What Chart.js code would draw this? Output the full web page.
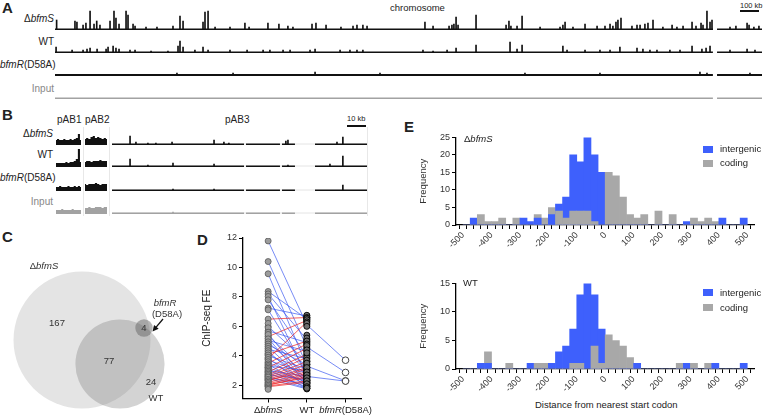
<!DOCTYPE html>
<html>
<head>
<meta charset="utf-8">
<script src="https://cdn.jsdelivr.net/npm/chart.js"></script>
<style>
  body { margin: 0; background: #fff; font-family: 'Liberation Sans', Arial, sans-serif; color: #222; }
  #fig { position: relative; width: 763px; height: 418px; overflow: hidden; }
  canvas { position: absolute; }
  .t { position: absolute; font-size: 10px; line-height: 12px; white-space: nowrap; }
  .r { text-align: right; }
  .p { position: absolute; font-weight: bold; font-size: 15px; line-height: 16px; }
  .sw { position: absolute; width: 10px; height: 7px; }
  .bar { position: absolute; background: #111; height: 1.5px; }
  .sep { position: absolute; width: 1px; background: #e8e8e8; }
</style>
</head>
<body>
<div id="fig">
  <!-- panel A -->
  <div class="p" style="left:2px;top:0px">A</div>
  <div class="t" style="left:390px;top:2px;font-size:9.5px">chromosome</div>
  <div class="t" style="left:740px;top:0px;font-size:7.5px">100 kb</div>
  <div class="bar" style="left:740px;top:10px;width:19px"></div>
  <div class="t r" style="left:0;width:54px;top:13px">&Delta;<i>bfmS</i></div>
  <div class="t r" style="left:0;width:54px;top:36px">WT</div>
  <div class="t r" style="left:0;width:54px;top:59px"><i>bfmR</i>(D58A)</div>
  <div class="t r" style="left:0;width:54px;top:83px;color:#888">Input</div>
  <canvas id="aS" width="707" height="21" style="left:55px;top:9px"></canvas>
  <canvas id="aW" width="707" height="21" style="left:55px;top:32px"></canvas>
  <canvas id="aR" width="707" height="21" style="left:55px;top:55px"></canvas>
  <canvas id="aI" width="707" height="21" style="left:55px;top:78px"></canvas>

  <!-- panel B -->
  <div class="p" style="left:2px;top:107px">B</div>
  <div class="t" style="left:57px;top:114px">pAB1</div>
  <div class="t" style="left:85px;top:114px">pAB2</div>
  <div class="t" style="left:225px;top:114px">pAB3</div>
  <div class="t" style="left:347px;top:113px;font-size:7.5px">10 kb</div>
  <div class="bar" style="left:347px;top:125px;width:19px"></div>
  <div class="sep" style="left:83px;top:127px;height:89px"></div>
  <div class="sep" style="left:109px;top:127px;height:89px"></div>
  <div class="sep" style="left:367px;top:127px;height:89px"></div>
  <div class="t r" style="left:0;width:53px;top:128px">&Delta;<i>bfmS</i></div>
  <div class="t r" style="left:0;width:53px;top:149px">WT</div>
  <div class="t r" style="left:0;width:53px;top:172px"><i>bfmR</i>(D58A)</div>
  <div class="t r" style="left:0;width:53px;top:196px;color:#888">Input</div>
  <canvas id="b1S" width="25" height="21" style="left:56px;top:124px"></canvas>
  <canvas id="b1W" width="25" height="21" style="left:56px;top:146px"></canvas>
  <canvas id="b1R" width="25" height="21" style="left:56px;top:170px"></canvas>
  <canvas id="b1I" width="25" height="21" style="left:56px;top:193px"></canvas>
  <canvas id="b2S" width="22" height="21" style="left:85px;top:124px"></canvas>
  <canvas id="b2W" width="22" height="21" style="left:85px;top:146px"></canvas>
  <canvas id="b2R" width="22" height="21" style="left:85px;top:170px"></canvas>
  <canvas id="b2I" width="22" height="21" style="left:85px;top:193px"></canvas>
  <canvas id="b3S" width="255" height="21" style="left:112px;top:124px"></canvas>
  <canvas id="b3W" width="255" height="21" style="left:112px;top:146px"></canvas>
  <canvas id="b3R" width="255" height="21" style="left:112px;top:170px"></canvas>
  <canvas id="b3I" width="255" height="21" style="left:112px;top:193px"></canvas>

  <!-- panel C / D -->
  <div class="p" style="left:2px;top:229px">C</div>
  <canvas id="venn" width="200" height="168" style="left:0px;top:250px"></canvas>
  <div class="p" style="left:197px;top:232px">D</div>
  <canvas id="pairs" width="172" height="188" style="left:201px;top:230px"></canvas>

  <!-- panel E -->
  <div class="p" style="left:404px;top:119px">E</div>
  <canvas id="eTop" width="345" height="118" style="left:418px;top:130px"></canvas>
  <canvas id="eBot" width="345" height="116" style="left:418px;top:276px"></canvas>
  <div class="t" style="left:464px;top:133px;font-size:9.5px">&Delta;<i>bfmS</i></div>
  <div class="t" style="left:463px;top:277px;font-size:9.5px">WT</div>
  <div class="sw" style="left:703px;top:146px;background:rgb(62,96,252)"></div>
  <div class="t" style="left:720px;top:143px;font-size:9.5px">intergenic</div>
  <div class="sw" style="left:703px;top:160px;background:rgb(168,168,168)"></div>
  <div class="t" style="left:720px;top:157px;font-size:9.5px">coding</div>
  <div class="sw" style="left:703px;top:289px;background:rgb(62,96,252)"></div>
  <div class="t" style="left:720px;top:287px;font-size:9.5px">intergenic</div>
  <div class="sw" style="left:703px;top:304px;background:rgb(168,168,168)"></div>
  <div class="t" style="left:720px;top:302px;font-size:9.5px">coding</div>
  <div class="t" style="left:535px;top:399px;font-size:9.5px">Distance from nearest start codon</div>
</div>

<script>
// ---- panel A: chromosome tracks (kb positions, peak heights) ----
const chrLength = 3931;
const chrSegments = [[0, 3658], [3681, 3931]];
const aPeakPosS = [9,111,122,156,172,195,217,232,250,306,328,339,356,395,406,434,445,506,567,656,695,712,823,834,851,890,973,1056,1079,1184,1245,1295,1323,1429,1451,1507,1590,1657,1679,1712,1735,2057,2102,2191,2207,2218,2230,2241,2341,2508,2524,2535,2569,2597,2697,2808,2824,2836,2880,2947,3014,3058,3086,3102,3119,3130,3147,3208,3236,3253,3280,3297,3325,3380,3431,3458,3492,3542,3564,3592,3603,3625,3642,3653,3753,3786,3848,3859,3886,3914];
const aPeakHS = [10,9,8,5,7,19,6,9,5,9,19,12,6,19,15,6,4,3,3,4,14,9,8,18,19,3,3,7,3,7,6,4,3,6,7,5,3,4,5,5,4,8,4,4,5,6,13,5,15,5,9,4,4,14,3,3,5,8,3,6,4,4,6,4,8,10,12,4,5,5,6,7,10,3,5,3,4,8,4,7,5,19,8,10,3,4,7,5,3,4];
const aPeakPosW = [6,95,156,178,195,234,284,295,323,339,356,417,445,534,628,684,695,712,778,823,851,973,1068,1157,1195,1268,1307,1418,1446,1585,1640,1679,1712,2046,2102,2180,2230,2341,2530,2569,2597,2824,2847,2947,3030,3086,3141,3236,3269,3308,3347,3419,3475,3542,3597,3620,3642,3753,3848,3892];
const aPeakHW = [6,3,3,4,5,4,4,6,7,5,4,3,3,2,2,7,12,6,3,6,3,3,3,3,3,3,3,3,4,3,3,3,3,3,2,3,5,8,11,4,8,7,3,3,3,3,6,5,4,3,3,3,3,7,4,5,7,3,4,3];
const aPeakPosR = [678,990,1446,1807,2613,3030,3586,3625,3864];
const aPeakHR = [3,3,4,3,3,3,4,3,3];

// ---- panel B: plasmids ----
const pAB1Cov = {
  S: [5,6,5,5,6,5,5,6,5,6,7,11,5],
  W: [4,4,4,4,4,5,4,5,5,6,8,18,5],
  R: [4,4,5,4,4,4,5,4,4,5,4,5,4],
  I: [4,4,4,5,4,4,4,4,5,4,4,4,4]
};
const pAB2Cov = {
  S: [6,7,6,8,9,7,8,7,6,7,6],
  W: [5,6,6,5,6,6,6,7,6,6,6],
  R: [7,6,7,7,7,8,7,6,7,7,7],
  I: [6,6,7,6,6,7,7,7,6,7,7]
};
const pAB3Length = 134.2;
const pAB3Segments = [[0, 69.5], [70.5, 88.4], [89.4, 96.3], [106.8, 134.2]];
const bPeakPosS = [9.5,12.6,18.9,23.1,31.6,53.7,58.9,61.5,91.5,92.6,118.4,121.5];
const bPeakHS = [9,3,2,2,3,5,3,2,4,5,3,8];
const bPeakPosW = [9.5,18.9,32.1,53.7,92.6,114.7,121.5];
const bPeakHW = [8,2,4,3,2,3,11];
const bPeakPosR = [32.1,53.7,121.5];
const bPeakHR = [2,2,6];
const bPeakPosI = [32.1];
const bPeakHI = [2];

// ---- panel C: Venn ----
const vennSetSizes = [248, 105, 4];          // ΔbfmS, WT, bfmR(D58A)
const vennCenterX = [82, 120, 144];
const vennCenterY = [90, 114, 78];
const vennRegionCounts = [167, 77, 24, 4];
const vennRegionX = [57, 109, 151, 144];
const vennRegionY = [73, 111, 132, 78];

// ---- panel D: paired ChIP-seq FE ----
const dCategories = ['ΔbfmS', 'WT', 'bfmR(D58A)'];
const dYTicks = [2, 4, 6, 8, 10, 12];
const dPairS = [11.8,10.4,9.57,8.37,8.2,8.03,7.8,7.24,7.12,6.49,5.99,5.7,5.5,5.35,5.2,5.05,4.9,4.75,4.6,4.45,4.3,4.15,4.0,3.85,3.7,3.55,3.4,3.3,3.2,3.1,3.0,2.9,2.8,2.7,2.6,2.5,2.45,
                5.3,3.8,4.1,3.5,3.2,2.9,2.7,2.6,2.5,2.4,2.35,2.3,2.2,2.1,2.05,2.0,1.95,1.9];
const dPairWT = [6.1,4.6,3.3,6.5,5.1,2.6,4.0,6.7,2.9,6.6,3.6,4.9,2.3,3.0,2.1,4.3,2.7,3.4,2.2,3.8,2.0,2.5,3.1,1.9,2.8,2.4,2.0,3.0,2.2,1.8,2.6,2.3,1.9,2.4,1.8,2.1,1.75,
                 6.4,6.3,5.0,4.8,4.5,4.1,3.9,3.6,3.4,3.2,2.9,3.1,2.8,2.7,2.5,2.6,2.3,2.2];
const dOnlyS = [6.2,5.9,5.6,5.45,5.15,4.95,4.8,4.65,4.5,4.35,4.2,4.05,3.9,3.75,3.6,3.45,3.35,3.25,3.15,3.05,2.95,2.85,2.75,2.65,2.55,2.4,2.3,2.2,2.1,2.0,1.9,1.8,1.72];
const dOnlyWT = [6.75,6.6,6.55,6.45,6.3,6.2,6.0,5.4,5.2,5.0,4.8,4.7,4.4,4.2,3.7,3.5,3.2,2.9,2.7,2.5,2.3,2.1,1.9,1.8];
const dSharedWT = [6.1, 4.6, 3.3, 2.6];
const dSharedR = [3.7, 2.87, 2.3, 2.28];

// ---- panel E: histograms, 25 bp bins ----
const binWidth = 25;
const binStarts = [-500,-475,-450,-425,-400,-375,-350,-325,-300,-275,-250,-225,-200,-175,-150,-125,-100,-75,-50,-25,
                   0,25,50,75,100,125,150,175,200,225,250,275,300,325,350,375,400,425,450,475];
const eTickLabels = [-500, -400, -300, -200, -100, 0, 100, 200, 300, 400, 500];
const dSIntergenic = [0,2,0,0,0,0,0,0,2,1,2,0,3,6,8,20,18,25,20,15, 0,0,0,0,0,0,0,0,0,0,0,1,0,0,0,0,2,0,0,2];
const dSCoding     = [0,0,3,1,1,2,0,2,0,0,3,2,5,4,2,4,4,4,1,0, 15,14,8,3,2,3,0,4,0,3,0,0,2,1,2,1,0,0,0,0];
const wtIntergenic = [0,0,1,1,0,0,0,0,0,1,0,0,1,3,4,7,13,15,13,7, 0,0,0,0,1,0,0,0,0,0,0,1,0,0,0,1,0,0,0,1];
const wtCoding     = [0,0,0,3,0,0,1,0,0,0,1,1,0,0,0,1,1,0,4,1, 6,5,4,2,0,0,0,0,0,0,1,0,1,0,1,0,0,0,0,0];

const BLUE = 'rgb(62,96,252)';
const GRAY = 'rgb(168,168,168)';
const FONT = "'Liberation Sans', Arial, sans-serif";

document.addEventListener('DOMContentLoaded', function() {
  Chart.defaults.font.family = FONT;
  Chart.defaults.color = '#333';

  const el = id => document.getElementById(id);
  const base = {
    responsive: false, animation: false, events: [], devicePixelRatio: 1,
    plugins: { legend: { display: false }, tooltip: { enabled: false } }
  };

  function trackOpts(xMax) {
    return Object.assign({}, base, {
      layout: { padding: 0, autoPadding: false },
      scales: {
        x: { type: 'linear', min: 0, max: xMax, offset: false, display: false },
        y: { min: 0, max: 21, display: false }
      }
    });
  }

  // one genome track: baseline band + thin peak bars
  function track(id, xMax, segments, pos, hts, color, level, ghost) {
    const baseLine = [];
    segments.forEach(s => baseLine.push({ x: s[0], y: level }, { x: s[1], y: level }, { x: s[1], y: null }));
    const sets = [
      { data: pos.map((x, i) => ({ x: x, y: hts[i] })), backgroundColor: color, barThickness: 1, order: 1 },
      { type: 'line', data: baseLine, borderWidth: 0, backgroundColor: color, fill: 'origin', pointRadius: 0, spanGaps: false, order: 2 }
    ];
    if (ghost) {
      sets.push({ type: 'line', data: [{ x: 0, y: 1 }, { x: xMax, y: 1 }], borderColor: '#e4e4e4', borderWidth: 1, pointRadius: 0, order: 3 });
    }
    new Chart(el(id), { type: 'bar', data: { datasets: sets }, options: trackOpts(xMax) });
  }

  // plasmid coverage block (pAB1 / pAB2)
  function block(id, cov, color) {
    new Chart(el(id), {
      type: 'line',
      data: { labels: cov.map((v, i) => i), datasets: [{ data: cov, stepped: 'middle', fill: 'origin', backgroundColor: color, borderWidth: 0, pointRadius: 0 }] },
      options: Object.assign({}, base, {
        layout: { padding: 0, autoPadding: false },
        scales: { x: { offset: false, display: false }, y: { min: 0, max: 21, display: false } }
      })
    });
  }

  const INK = '#111', INPUT = '#a2a2a2';
  track('aS', chrLength, chrSegments, aPeakPosS, aPeakHS, INK, 1.6);
  track('aW', chrLength, chrSegments, aPeakPosW, aPeakHW, INK, 1.5);
  track('aR', chrLength, chrSegments, aPeakPosR, aPeakHR, INK, 2);
  track('aI', chrLength, chrSegments, [], [], INPUT, 1.6);

  ['S', 'W', 'R', 'I'].forEach(k => {
    const col = k === 'I' ? INPUT : INK;
    block('b1' + k, pAB1Cov[k], col);
    block('b2' + k, pAB2Cov[k], col);
  });
  track('b3S', pAB3Length, pAB3Segments, bPeakPosS, bPeakHS, INK, 1.5, true);
  track('b3W', pAB3Length, pAB3Segments, bPeakPosW, bPeakHW, INK, 1.5, true);
  track('b3R', pAB3Length, pAB3Segments, bPeakPosR, bPeakHR, INK, 1.5, true);
  track('b3I', pAB3Length, pAB3Segments, bPeakPosI, bPeakHI, INPUT, 1.5, true);

  // text made of upright / italic pieces, centred on (cx, cy)
  function richText(c, parts, cx, cy, size) {
    const fontOf = p => (p.it ? 'italic ' : '') + size + 'px ' + FONT;
    const widths = parts.map(p => { c.font = fontOf(p); return c.measureText(p.t).width; });
    let x = cx - widths.reduce((a, b) => a + b, 0) / 2;
    c.textAlign = 'left';
    c.textBaseline = 'middle';
    parts.forEach((p, i) => { c.font = fontOf(p); c.fillText(p.t, x, cy); x += widths[i]; });
  }

  // ---- C: Venn ----
  const vennNames = [
    { parts: [{ t: 'Δ' }, { t: 'bfmS', it: true }], x: 44, y: 16 },
    { parts: [{ t: 'bfmR', it: true }], x: 165, y: 53.5 },
    { parts: [{ t: '(D58A)' }], x: 167, y: 64 },
    { parts: [{ t: 'WT' }], x: 156, y: 148 }
  ];
  const vennArrow = [[163, 69], [152.5, 81.5]];
  const vennFills = ['#e4e4e4', 'rgba(120,120,120,0.33)', 'rgba(90,90,90,0.45)'];
  const vennLabels = {
    id: 'vennLabels',
    afterDatasetsDraw(chart) {
      const c = chart.ctx, xs = chart.scales.x, ys = chart.scales.y;
      c.save();
      c.fillStyle = '#333';
      vennRegionCounts.forEach((n, i) => richText(c, [{ t: String(n) }], xs.getPixelForValue(vennRegionX[i]), ys.getPixelForValue(vennRegionY[i]), 9.5));
      vennNames.forEach(n => richText(c, n.parts, xs.getPixelForValue(n.x), ys.getPixelForValue(n.y), 9.5));
      const x0 = xs.getPixelForValue(vennArrow[0][0]), y0 = ys.getPixelForValue(vennArrow[0][1]);
      const x1 = xs.getPixelForValue(vennArrow[1][0]), y1 = ys.getPixelForValue(vennArrow[1][1]);
      const a = Math.atan2(y1 - y0, x1 - x0);
      c.strokeStyle = '#111'; c.lineWidth = 1.3; c.fillStyle = '#111';
      c.beginPath(); c.moveTo(x0, y0); c.lineTo(x1 - 3 * Math.cos(a), y1 - 3 * Math.sin(a)); c.stroke();
      c.beginPath(); c.moveTo(x1, y1);
      c.lineTo(x1 - 6 * Math.cos(a) + 3 * Math.sin(a), y1 - 6 * Math.sin(a) - 3 * Math.cos(a));
      c.lineTo(x1 - 6 * Math.cos(a) - 3 * Math.sin(a), y1 - 6 * Math.sin(a) + 3 * Math.cos(a));
      c.closePath(); c.fill();
      c.restore();
    }
  };
  new Chart(el('venn'), {
    type: 'bubble',
    data: {
      datasets: vennSetSizes.map((n, i) => ({
        data: [{ x: vennCenterX[i], y: vennCenterY[i], r: 4.35 * Math.sqrt(n) }],
        backgroundColor: vennFills[i], borderWidth: 0, clip: false, order: 3 - i
      }))
    },
    options: Object.assign({}, base, {
      layout: { padding: 0, autoPadding: false },
      scales: {
        x: { type: 'linear', min: 0, max: 200, display: false },
        y: { type: 'linear', min: 0, max: 168, reverse: true, display: false }
      }
    }),
    plugins: [vennLabels]
  });

  // ---- D: paired FE values ----
  function links(a, b, x0, x1, keep) {
    const out = [];
    a.forEach((v, i) => { if (keep(v, b[i])) out.push({ x: x0, y: v }, { x: x1, y: b[i] }, { x: x1, y: null }); });
    return out;
  }
  const dLabelParts = [
    [{ t: 'Δ' }, { t: 'bfmS', it: true }],
    [{ t: 'WT' }],
    [{ t: 'bfmR', it: true }, { t: '(D58A)' }]
  ];
  const richX = {
    id: 'richX',
    afterDraw(chart) {
      const c = chart.ctx, xs = chart.scales.x;
      c.save(); c.fillStyle = '#222';
      dCategories.forEach((name, i) => richText(c, dLabelParts[i], xs.getPixelForValue(i), xs.top + 11.5, 9.5));
      c.restore();
    }
  };
  const axisLook = {
    border: { color: '#000', width: 1.3 },
    grid: { drawOnChartArea: false, color: '#000', tickLength: 4, lineWidth: 1 }
  };
  new Chart(el('pairs'), {
    type: 'scatter',
    data: {
      datasets: [
        { data: links(dPairS, dPairWT, 0, 1, (s, w) => s > w), showLine: true, spanGaps: false, borderColor: 'rgba(55,85,240,0.85)', borderWidth: 0.8, pointRadius: 0, order: 5 },
        { data: links(dPairS, dPairWT, 0, 1, (s, w) => s <= w), showLine: true, spanGaps: false, borderColor: 'rgba(238,35,35,0.9)', borderWidth: 0.8, pointRadius: 0, order: 4 },
        { data: links(dSharedWT, dSharedR, 1, 2, () => true), showLine: true, spanGaps: false, borderColor: 'rgba(55,85,240,0.85)', borderWidth: 0.8, pointRadius: 0, order: 4 },
        { data: dPairS.concat(dOnlyS).map(y => ({ x: 0, y: y })), backgroundColor: '#9c9c9c', borderColor: '#555', borderWidth: 0.8, pointRadius: 3, order: 3 },
        { data: dPairWT.concat(dOnlyWT).map(y => ({ x: 1, y: y })), backgroundColor: '#6e6e6e', borderColor: '#000', borderWidth: 0.9, pointRadius: 3, order: 2 },
        { data: dSharedR.map(y => ({ x: 2, y: y })), backgroundColor: '#fff', borderColor: '#444', borderWidth: 1, pointRadius: 3.3, order: 1 }
      ]
    },
    options: Object.assign({}, base, {
      layout: { padding: { top: 8, right: 12, left: 0, bottom: 0 }, autoPadding: false },
      scales: {
        x: Object.assign({
          type: 'linear', min: -0.65, max: 2.4,
          afterBuildTicks: s => { s.ticks = dCategories.map((c, i) => ({ value: i })); },
          afterFit: s => { s.height = 19.5; },
          ticks: { callback: () => '', padding: 0 }
        }, axisLook),
        y: Object.assign({
          min: 1.1, max: 12,
          afterBuildTicks: s => { s.ticks = dYTicks.map(v => ({ value: v })); },
          afterFit: s => { s.width = 42; },
          ticks: { font: { size: 9 }, padding: 2, color: '#333' },
          title: { display: true, text: 'ChIP-seq FE', font: { size: 10 }, color: '#222', padding: 0 }
        }, axisLook)
      }
    }),
    plugins: [richX]
  });

  // ---- E: overlapping histograms (shorter bar of each bin in front) ----
  const eTickValues = [-525].concat(binStarts, [500, 525]);
  function histogram(id, ig, cd, yMax, yTicks) {
    const centers = binStarts.map(b => b + binWidth / 2);
    const back = ig.map((v, i) => Math.max(v, cd[i]));
    const front = ig.map((v, i) => Math.min(v, cd[i]));
    const common = { grouped: false, barPercentage: 1, categoryPercentage: 1, borderWidth: 0 };
    new Chart(el(id), {
      type: 'bar',
      data: {
        datasets: [
          Object.assign({ data: centers.map((x, i) => ({ x: x, y: front[i] })), backgroundColor: ig.map((v, i) => v < cd[i] ? BLUE : GRAY), order: 1 }, common),
          Object.assign({ data: centers.map((x, i) => ({ x: x, y: back[i] })), backgroundColor: ig.map((v, i) => v >= cd[i] ? BLUE : GRAY), order: 2 }, common)
        ]
      },
      options: Object.assign({}, base, {
        layout: { padding: { top: 7, right: 7, left: 0, bottom: 0 } },
        scales: {
          x: Object.assign({
            type: 'linear', min: -525, max: 525, offset: false,
            afterBuildTicks: s => { s.ticks = eTickValues.map(v => ({ value: v })); },
            afterFit: s => { s.height = 23; },
            ticks: { autoSkip: false, minRotation: 45, maxRotation: 45, padding: 1, font: { size: 9 }, color: '#333',
                     callback: v => eTickLabels.includes(v) ? String(v) : '' }
          }, axisLook),
          y: Object.assign({
            min: 0, max: yMax,
            afterBuildTicks: s => { s.ticks = yTicks.map(v => ({ value: v })); },
            afterFit: s => { s.width = 38; },
            ticks: { font: { size: 9 }, padding: 2, color: '#333' },
            title: { display: true, text: 'Frequency', font: { size: 9.5 }, color: '#333', padding: 0 }
          }, axisLook)
        }
      })
    });
  }
  histogram('eTop', dSIntergenic, dSCoding, 25, [0, 5, 10, 15, 20, 25]);
  histogram('eBot', wtIntergenic, wtCoding, 15, [0, 5, 10, 15]);
});
</script>
</body>
</html>
